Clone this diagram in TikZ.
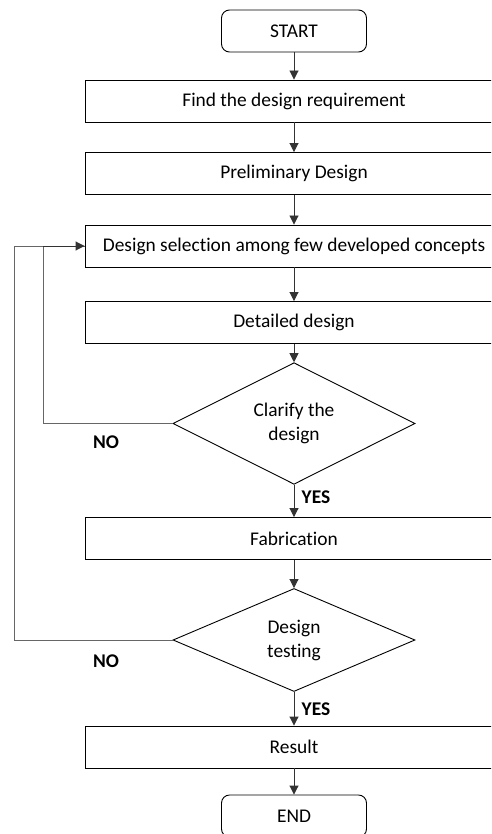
\documentclass[tikz,border=0pt]{standalone}
\usepackage{fontspec}
\setmainfont{Carlito}[Ligatures=NoCommon]
\usetikzlibrary{shapes.geometric,arrows.meta}
\tikzset{
  stepbox/.style={draw=black,line width=0.9pt,minimum width=418pt,minimum height=42pt,inner sep=0pt,font=\fontsize{19.4pt}{23pt}\selectfont},
  termbox/.style={draw=black,line width=0.9pt,rounded corners=8pt,minimum width=145pt,minimum height=42pt,inner sep=0pt,font=\fontsize{19.4pt}{23pt}\selectfont},
  decbox/.style={draw=black,line width=0.9pt,diamond,minimum width=242pt,minimum height=103pt,inner sep=0pt,align=center,font=\fontsize{19.4pt}{24pt}\selectfont},
  flow/.style={draw=black!80,line width=0.9pt,-{Triangle[length=9pt,width=9pt]}},
  loopline/.style={draw=black!60,line width=0.9pt},
  lab/.style={font=\fontsize{19.4pt}{23pt}\selectfont\bfseries,inner sep=0pt}
}
\begin{document}
\begin{tikzpicture}[x=1pt,y=-1pt]
\useasboundingbox (0,0) rectangle (491,834);
\clip (0,0) rectangle (491,834);
\node[termbox] (start) at (294,31) {START};
\node[stepbox] (req) at (294,101) {Find the design requirement};
\node[stepbox] (pre) at (294,173.5) {Preliminary Design};
\node[stepbox] (sel) at (294,246) {Design selection among few developed concepts};
\node[stepbox] (det) at (294,322.5) {Detailed design};
\node[decbox] (cla) at (294,423.5) {Clarify the\\design};
\node[stepbox] (fab) at (294,538.5) {Fabrication};
\node[decbox] (tes) at (294,640) {Design\\testing};
\node[stepbox] (res) at (294,747) {Result};
\node[termbox] (fin) at (294,816) {END};
\coordinate (c1) at (43,423.5);
\coordinate (c2) at (14,640);
\draw[flow] (start) -- (req);
\draw[flow] (req) -- (pre);
\draw[flow] (pre) -- (sel);
\draw[flow] (sel) -- (det);
\draw[flow] (det) -- (cla);
\draw[flow] (cla) -- (fab);
\draw[flow] (fab) -- (tes);
\draw[flow] (tes) -- (res);
\draw[flow] (res) -- (fin);
\draw[loopline] (cla.west) -- (c1) |- (sel.west);
\draw[loopline] (tes.west) -- (c2) |- (sel.west);
\draw[flow] (c1 |- sel.west) -- (sel.west);
\node[lab] (no1) at (106,442) {NO};
\node[lab] (no2) at (106,661) {NO};
\node[lab] (yes1) at (316,497) {YES};
\node[lab] (yes2) at (316,709) {YES};
\end{tikzpicture}
\end{document}
